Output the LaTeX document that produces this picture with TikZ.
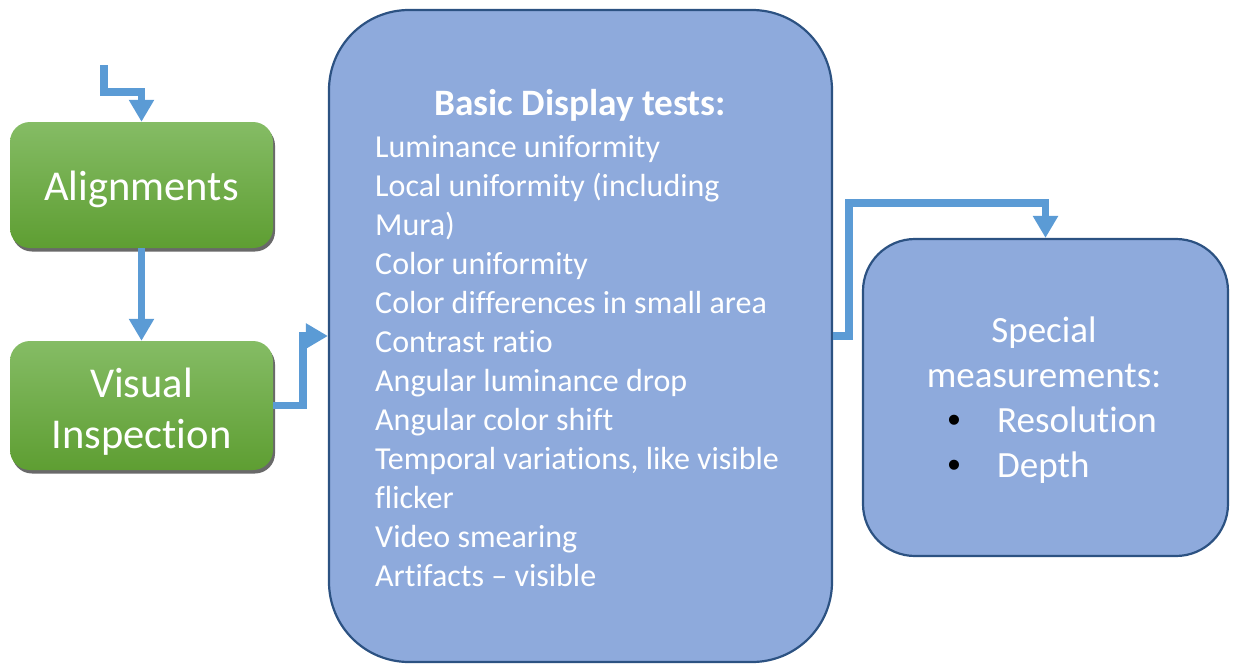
\documentclass[tikz,border=0pt]{standalone}
\usepackage{fontspec}
\setmainfont[Ligatures=CommonOff]{Carlito}
\newfontfamily\bulfont{Liberation Sans}
\usetikzlibrary{arrows.meta,shadows}
\definecolor{arrowblue}{HTML}{5B9BD5}
\definecolor{boxblue}{HTML}{8EAADC}
\definecolor{boxedge}{HTML}{2C5282}
\definecolor{greentop}{HTML}{85BC65}
\definecolor{greenbot}{HTML}{5E9E32}
\begin{document}
\begin{tikzpicture}[x=1pt,y=-1pt,
  greenbox/.style={rectangle, rounded corners=20pt, minimum width=263pt, inner sep=0pt,
    top color=greentop, bottom color=greenbot, draw=none,
    drop shadow={shadow xshift=2pt, shadow yshift=-3.5pt, fill=black!65, opacity=0.9}},
  bluebox/.style={rectangle, fill=boxblue, draw=boxedge, line width=2.2pt, inner sep=0pt},
  arr/.style={draw=arrowblue, line width=7.5pt, -{Triangle[width=24pt,length=22pt]}},
  gtext/.style={text=white, font=\fontsize{42.5}{51}\selectfont, anchor=base, inner sep=0pt},
  btext/.style={text=white, font=\fontsize{32}{39}\selectfont, anchor=base west, inner sep=0pt},
  stext/.style={text=white, font=\fontsize{37}{45}\selectfont, anchor=base, inner sep=0pt},
  bullet/.style={text=black, font=\fontsize{37}{45}\selectfont\bulfont, anchor=base, inner sep=0pt}]
\useasboundingbox (0,0) rectangle (1235,664);
% boxes
\node[greenbox, minimum height=126pt] (al) at (141.5,185) {};
\node[greenbox, minimum height=129pt] (vi) at (141.5,405.5) {};
\node[bluebox, rounded corners=80pt, minimum width=503pt, minimum height=652pt] (big) at (580.5,336) {};
\node[bluebox, rounded corners=52pt, minimum width=365pt, minimum height=317pt] (sp) at (1045.5,397.5) {};
% green texts
\node[gtext] (alt) at (141.5,200) {Alignments};
\node[gtext] (vit1) at (141.5,397) {Visual};
\node[gtext] (vit2) at (141.5,448) {Inspection};
% big box text
\node[btext, anchor=base, font=\fontsize{37.3}{39}\selectfont\bfseries] (bt) at (580,115) {Basic Display tests:};
\foreach \t [count=\i] in {Luminance uniformity, Local uniformity (including, Mura), Color uniformity,
  Color differences in small area, Contrast ratio, Angular luminance drop, Angular color shift,
  {Temporal variations, like visible}, flicker, Video smearing, Artifacts -- visible}{
  \node[btext] (l\i) at (375,{157+39*(\i-1)}) {\t};
}
% special box text
\node[stext] (st1) at (1044,342) {Special};
\node[stext] (st2) at (1044,387) {measurements:};
\node[bullet] (b1) at (954,432) {•};
\node[stext, anchor=base west] (st3) at (997,432) {Resolution};
\node[bullet] (b2) at (954,477) {•};
\node[stext, anchor=base west] (st4) at (997,477) {Depth};
% arrows
\coordinate (s) at (104,65);
\draw[arr] (s) |- ([yshift=30pt]al.north) -- (al.north);
\draw[arr] (al.south) -- (vi.north);
\draw[arr] (vi.east) -- ++(30,0) |- (big.west);
\draw[arr] (big.east) -- ++(16,0) |- ([yshift=35pt]sp.north) -- (sp.north);
\end{tikzpicture}
\end{document}
